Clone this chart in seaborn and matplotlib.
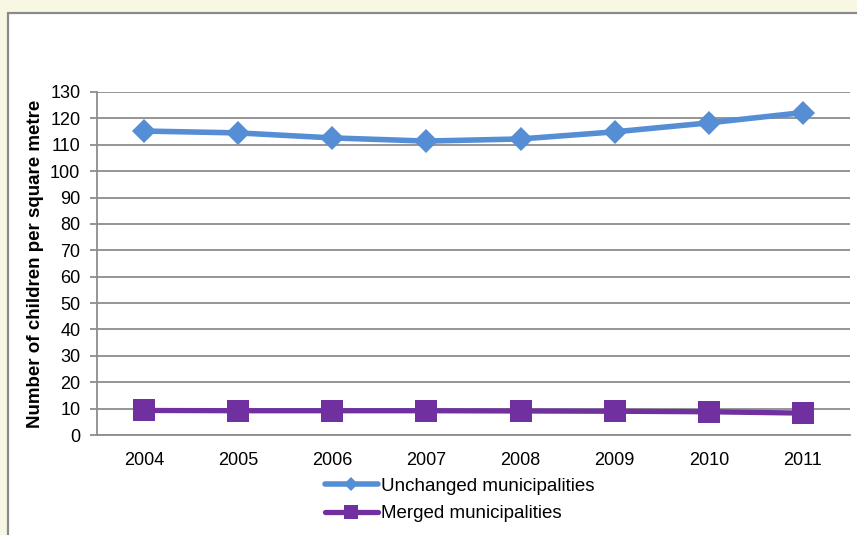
import matplotlib
matplotlib.use("Agg")
import matplotlib.pyplot as plt
from matplotlib.lines import Line2D
from matplotlib.patches import Rectangle
import seaborn as sns
import pandas as pd

years = ["2004", "2005", "2006", "2007", "2008", "2009", "2010", "2011"]
unchanged = [115.2, 114.5, 112.6, 111.4, 112.2, 114.9, 118.3, 122.2]
merged = [9.3, 9.2, 9.2, 9.2, 9.1, 9.0, 8.8, 8.3]
series_names = ["Unchanged municipalities", "Merged municipalities"]
y_ticks = list(range(0, 131, 10))

blue = "#558ED5"
purple = "#7030A0"
grid_gray = "#8C8C8C"

sns.set_theme(style="white")
plt.rcParams["font.family"] = ["Liberation Sans", "DejaVu Sans"]
plt.rcParams["text.color"] = "black"

fig = plt.figure(figsize=(8.57, 5.35), dpi=100)
fig.patch.set_facecolor("#F8F7E3")

# white chart panel with a grey frame, kept behind the axes
fig.patches.append(Rectangle((8 / 857, -0.05), 1.0, 1 - 13 / 535 + 0.05,
                             transform=fig.transFigure, facecolor="white",
                             edgecolor="#8A8A8A", linewidth=1.6, zorder=-10))

ax = fig.add_axes([97 / 857, 1 - 435 / 535, (850 - 97) / 857, (435 - 92) / 535])
ax.set_zorder(1)
ax.set_facecolor("white")

df_u = pd.DataFrame({"year": years, "value": unchanged})
df_m = pd.DataFrame({"year": years, "value": merged})

sns.lineplot(data=df_u, x="year", y="value", ax=ax, color=blue, linewidth=4.0,
             marker="D", markersize=12, markeredgewidth=0, zorder=3)
sns.lineplot(data=df_m, x="year", y="value", ax=ax, color=purple, linewidth=3.8,
             marker="s", markersize=16, markeredgewidth=0, zorder=3)

ax.set_xlim(-0.5, len(years) - 0.5)
ax.set_ylim(0, 130)
ax.set_yticks(y_ticks)
ax.yaxis.grid(True, color=grid_gray, linewidth=1.3)
ax.xaxis.grid(False)
ax.set_axisbelow(True)

for side in ["top", "right"]:
    ax.spines[side].set_visible(False)
for side in ["left", "bottom"]:
    ax.spines[side].set_color(grid_gray)
    ax.spines[side].set_linewidth(1.3)

ax.tick_params(axis="y", left=True, length=5, width=1.3, color=grid_gray,
               labelsize=13, pad=7, labelcolor="black")
ax.tick_params(axis="x", bottom=False, labelsize=13, pad=6, labelcolor="black")

ax.set_xlabel("")
ax.set_ylabel("Number of children per square metre", fontsize=13.5,
              fontweight="bold", color="black")
ax.yaxis.set_label_coords(-0.070, 0.5)

handles = [
    Line2D([], [], color=blue, linewidth=4.0, marker="D", markersize=7,
           markeredgewidth=0),
    Line2D([], [], color=purple, linewidth=3.8, marker="s", markersize=9.5,
           markeredgewidth=0),
]
fig.legend(handles, series_names, loc="center", bbox_to_anchor=(460 / 857, 1 - 500 / 535),
           ncol=1, frameon=False, fontsize=13.5, handlelength=2.8, handletextpad=0.2,
           labelspacing=0.55, borderaxespad=0, labelcolor="black")

fig.savefig("out.png", dpi=100, facecolor=fig.get_facecolor())
